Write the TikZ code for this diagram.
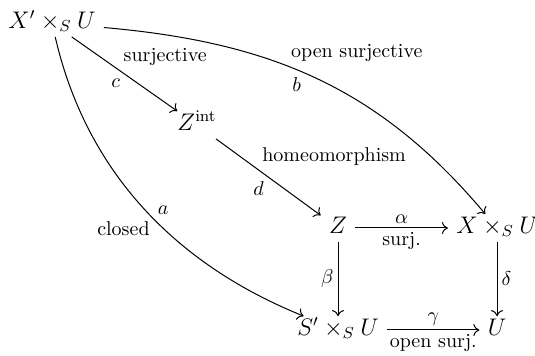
\documentclass[tikz,border=0pt]{standalone}
\usepackage{amsmath,amssymb}
\usetikzlibrary{arrows.meta,positioning,calc}

\begin{document}
\begin{tikzpicture}[x=0.5pt,y=-0.5pt,
  every node/.style={align=center},
  obj/.style={font=\large,text height=1.7ex,text depth=0.5ex,inner xsep=4pt,inner ysep=2pt},
  lbl/.style={font=\normalsize,inner sep=2pt},
  map/.style={-{To[length=3pt,width=6pt]},line width=0.5pt}]
  \useasboundingbox (0,0) rectangle (535,356);
  % objects
  \node[obj] (xpu) at (52,23) {$X'\times_S U$};
  \node[obj] (zint) at (197,125) {$Z^{\mathrm{int}}$};
  \node[obj] (z) at (338,228) {$Z$};
  \node[obj] (xu) at (497,228) {$X\times_S U$};
  \node[obj] (spu) at (338,330) {$S'\times_S U$};
  \node[obj] (u) at (497,330) {$U$};
  % maps
  \draw[map] (xpu) -- node[lbl,pos=.45,above right] {surjective} node[lbl,below left] {$c$} (zint);
  \draw[map] (zint) -- node[lbl,pos=.4,above right] {homeomorphism} node[lbl,below left] {$d$} (z);
  \draw[map] (z) -- node[lbl,above] {$\alpha$} node[lbl,below] {surj.} (xu);
  \draw[map] (z) -- node[lbl,left] {$\beta$} (spu);
  \draw[map] (xu) -- node[lbl,right] {$\delta$} (u);
  \draw[map] (spu) -- node[lbl,above] {$\gamma$} node[lbl,below] {open surj.} (u);
  \draw[map] (xpu) to[out=-5,in=130] node[lbl,pos=.42,above right] {open surjective} node[lbl,pos=.47,below left] {$b$} (xu);
  \draw[map] (xpu) to[out=-77,in=158,looseness=.95] node[lbl,pos=.58,left=5pt] {closed} node[lbl,pos=.54,above right] {$a$} (spu);
\end{tikzpicture}
\end{document}
